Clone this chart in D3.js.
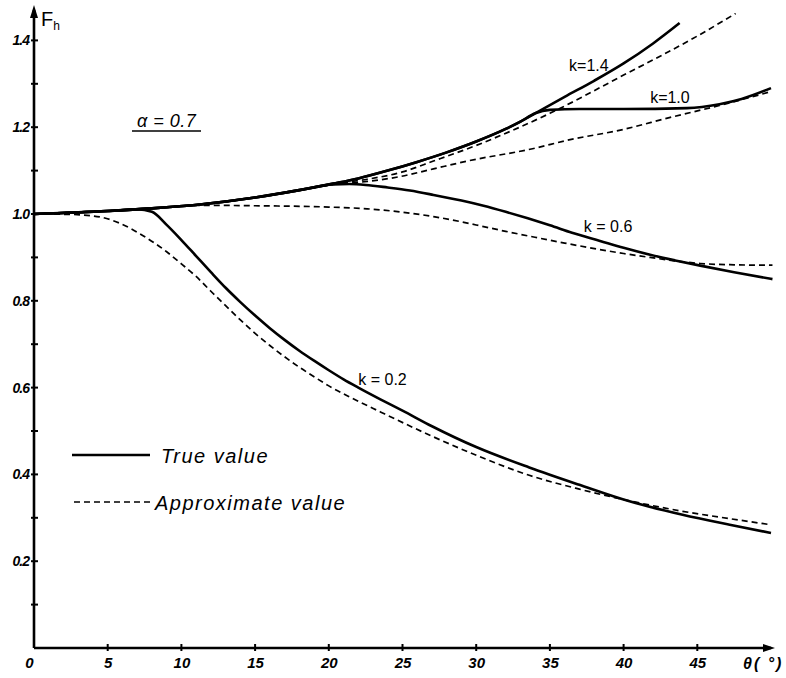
<!DOCTYPE html>
<html>
<head>
<meta charset="utf-8">
<script src="https://cdn.jsdelivr.net/npm/d3@7"></script>
<style>
  html, body { margin: 0; padding: 0; background: #fff; }
  svg { display: block; }
  text { font-family: "Liberation Sans", Arial, sans-serif; fill: #000; }
</style>
</head>
<body>
<svg id="chart" width="786" height="678"></svg>
<script>
// ---------- data ----------
const xTicks = [0, 5, 10, 15, 20, 25, 30, 35, 40, 45];
const yTicks = [0.2, 0.4, 0.6, 0.8, 1.0, 1.2, 1.4];
const yMinor = [0.1, 0.3, 0.5, 0.7, 0.9, 1.1, 1.3];

// shared rising branch of the true curves [theta, Fh]
const upperCommon = [[0,1.0],[5,1.007],[8,1.013],[11.26,1.022],[15,1.038],[18,1.055],[20.3,1.070],[22,1.082],[24,1.100],[26,1.120],[28,1.142],[30,1.167],[32,1.196],[33,1.213],[34,1.232]];

// True value curves
const trueK02 = [[0,1.0],[3,1.004],[5,1.007],[7,1.011],[8,1.005],[9,0.975],[10,0.940],[11,0.903],[12,0.866],[13,0.830],[14,0.797],[15,0.766],[16,0.737],[17,0.710],[18,0.685],[19,0.662],[20,0.640],[21,0.619],[22,0.600],[23.5,0.573],[25,0.547],[27,0.511],[30,0.463],[33.6,0.416],[37,0.376],[40.4,0.338],[44,0.307],[47.2,0.284],[50,0.265]];
const trueK06 = [[0,1.0],[5,1.007],[8,1.013],[11.26,1.022],[15,1.038],[18,1.055],[20.3,1.068],[21.4,1.069],[22.5,1.067],[24,1.061],[25.5,1.054],[27.1,1.044],[29,1.031],[30.5,1.019],[32,1.005],[33.5,0.990],[35,0.974],[36.5,0.957],[38.4,0.938],[40,0.922],[41.8,0.906],[43.5,0.893],[45.2,0.881],[47.5,0.866],[50.1,0.850]];
const trueK10 = upperCommon.concat([[35,1.240],[37,1.242],[40,1.242],[44.3,1.244],[46.5,1.253],[48,1.265],[50,1.290]]);
const trueK14 = upperCommon.concat([[36,1.270],[38,1.307],[40,1.347],[42,1.393],[43.8,1.440]]);

// Approximate value curves
const apprK02 = [[0,1.0],[2.5,0.999],[4.5,0.993],[5.8,0.979],[7.4,0.950],[9,0.913],[10,0.885],[11,0.856],[12,0.822],[13,0.789],[14,0.756],[15,0.725],[16,0.697],[17,0.671],[18,0.647],[19,0.625],[20,0.604],[21.5,0.577],[23.5,0.544],[27,0.488],[30.3,0.440],[33.6,0.398],[37,0.366],[40.4,0.339],[44,0.315],[47.2,0.298],[50,0.284]];
const apprK06 = [[0,1.0],[5,1.007],[8,1.013],[11.26,1.020],[15,1.019],[20,1.016],[22.6,1.012],[24.8,1.005],[27.1,0.994],[29,0.982],[30.5,0.971],[32,0.960],[33.9,0.947],[36,0.933],[38.4,0.918],[40,0.909],[41.8,0.900],[43.5,0.892],[45.2,0.886],[47.5,0.883],[50.1,0.882]];
const apprK10 = [[0,1.0],[5,1.007],[8,1.013],[11.26,1.022],[15,1.038],[18,1.055],[20.3,1.068],[22.6,1.075],[24.8,1.086],[27.1,1.104],[29.4,1.122],[33.9,1.151],[36.2,1.170],[40,1.195],[43.1,1.222],[46.5,1.250],[50,1.282]];
const apprK14 = [[0,1.0],[5,1.007],[8,1.013],[11.26,1.022],[15,1.038],[18,1.055],[20.3,1.069],[22.6,1.080],[25,1.097],[27.1,1.122],[30,1.158],[35,1.232],[40,1.320],[45,1.410],[47.6,1.462]];

const curveLabels = [
  {text: "k=1.4", th: 36.3, v: 1.33},
  {text: "k=1.0", th: 41.8, v: 1.255},
  {text: "k = 0.6", th: 37.3, v: 0.958},
  {text: "k = 0.2", th: 22.0, v: 0.605}
];

// ---------- layout ----------
const svg = d3.select("#chart");
const x = d3.scaleLinear().domain([0, 50]).range([34, 771]);
const y = d3.scaleLinear().domain([0, 1.0]).range([648, 214]);

const ink = "#000";

// axes lines
const axisG = svg.append("g");
axisG.append("line").attr("x1", x(0)).attr("x2", x(50)).attr("y1", y(0)).attr("y2", y(0))
  .attr("stroke", ink).attr("stroke-width", 2.6);
axisG.append("line").attr("x1", x(0)).attr("x2", x(0)).attr("y1", y(0)).attr("y2", 10)
  .attr("stroke", ink).attr("stroke-width", 2.6);
// arrowheads
axisG.append("path").attr("d", `M${x(0)-4},${18} L${x(0)},${5} L${x(0)+4},${18} Z`).attr("fill", ink);
axisG.append("path").attr("d", `M${x(50)-8},${y(0)-4} L${x(50)+4},${y(0)} L${x(50)-8},${y(0)+4} Z`).attr("fill", ink);

// x axis labels via d3 axis
const xAxis = d3.axisBottom(x).tickValues(xTicks).tickSize(0).tickPadding(9)
  .tickFormat(d => String(d));
const gx = svg.append("g").attr("transform", `translate(0,${y(0)})`).call(xAxis);
gx.select(".domain").remove();
gx.selectAll("text").attr("font-size", 15).attr("font-style", "italic").attr("font-weight", "bold")
  .attr("fill", ink).attr("font-family", "Liberation Sans, Arial, sans-serif");
gx.selectAll(".tick").filter(d => d === 0).select("text").attr("dx", -5);
// x tick marks (crosses)
svg.append("g").selectAll("line").data(xTicks.filter(d => d > 0)).join("line")
  .attr("x1", d => x(d)).attr("x2", d => x(d)).attr("y1", y(0) - 4).attr("y2", y(0) + 3)
  .attr("stroke", ink).attr("stroke-width", 2);

// y axis labels via d3 axis
const yAxis = d3.axisLeft(y).tickValues(yTicks).tickSize(0).tickPadding(5)
  .tickFormat(d3.format(".1f"));
const gy = svg.append("g").attr("transform", `translate(${x(0)},0)`).call(yAxis);
gy.select(".domain").remove();
gy.selectAll("text").attr("font-size", 14).attr("font-style", "italic").attr("font-weight", "bold")
  .attr("fill", ink).attr("letter-spacing", -1).attr("font-family", "Liberation Sans, Arial, sans-serif");
// y tick marks (crosses) major and minor
svg.append("g").selectAll("line").data(yTicks.concat(yMinor)).join("line")
  .attr("x1", x(0) - 3).attr("x2", x(0) + 4).attr("y1", d => y(d)).attr("y2", d => y(d))
  .attr("stroke", ink).attr("stroke-width", 2);

// axis titles
const fh = svg.append("text").attr("x", 41).attr("y", 26).attr("font-size", 20);
fh.append("tspan").text("F");
fh.append("tspan").attr("font-size", 12).attr("dy", 4).text("h");
svg.append("text").attr("x", 743).attr("y", 669).attr("font-size", 16).attr("font-weight", "bold")
  .attr("font-style", "italic").attr("letter-spacing", 2).text("θ( °)");

// alpha annotation
svg.append("text").attr("x", 137).attr("y", 127).attr("font-size", 18).attr("font-style", "italic")
  .attr("letter-spacing", 0.5).text("α = 0.7");
svg.append("line").attr("x1", 132).attr("x2", 201).attr("y1", 131).attr("y2", 131)
  .attr("stroke", ink).attr("stroke-width", 1.5);

// ---------- curves ----------
const line = d3.line().x(d => x(d[0])).y(d => y(d[1])).curve(d3.curveMonotoneX);

const approx = [apprK02, apprK06, apprK10, apprK14];
svg.append("g").selectAll("path").data(approx).join("path")
  .attr("d", line).attr("fill", "none").attr("stroke", ink)
  .attr("stroke-width", 1.7).attr("stroke-dasharray", "6,4");

const trues = [trueK02, trueK06, trueK10, trueK14];
svg.append("g").selectAll("path").data(trues).join("path")
  .attr("d", line).attr("fill", "none").attr("stroke", ink)
  .attr("stroke-width", 2.6).attr("stroke-linejoin", "round");

// curve labels
svg.append("g").selectAll("text").data(curveLabels).join("text")
  .attr("x", d => x(d.th)).attr("y", d => y(d.v))
  .attr("font-size", 16).text(d => d.text);

// ---------- legend ----------
svg.append("line").attr("x1", 72).attr("x2", 150).attr("y1", 455).attr("y2", 455)
  .attr("stroke", ink).attr("stroke-width", 2.4);
svg.append("text").attr("x", 161).attr("y", 463).attr("font-size", 20).attr("font-style", "italic")
  .attr("letter-spacing", 1.5).text("True  value");
svg.append("line").attr("x1", 74).attr("x2", 153).attr("y1", 502).attr("y2", 502)
  .attr("stroke", ink).attr("stroke-width", 1.7).attr("stroke-dasharray", "6,4");
svg.append("text").attr("x", 155).attr("y", 510).attr("font-size", 20).attr("font-style", "italic")
  .attr("letter-spacing", 1.5).text("Approximate  value");
</script>
</body>
</html>
